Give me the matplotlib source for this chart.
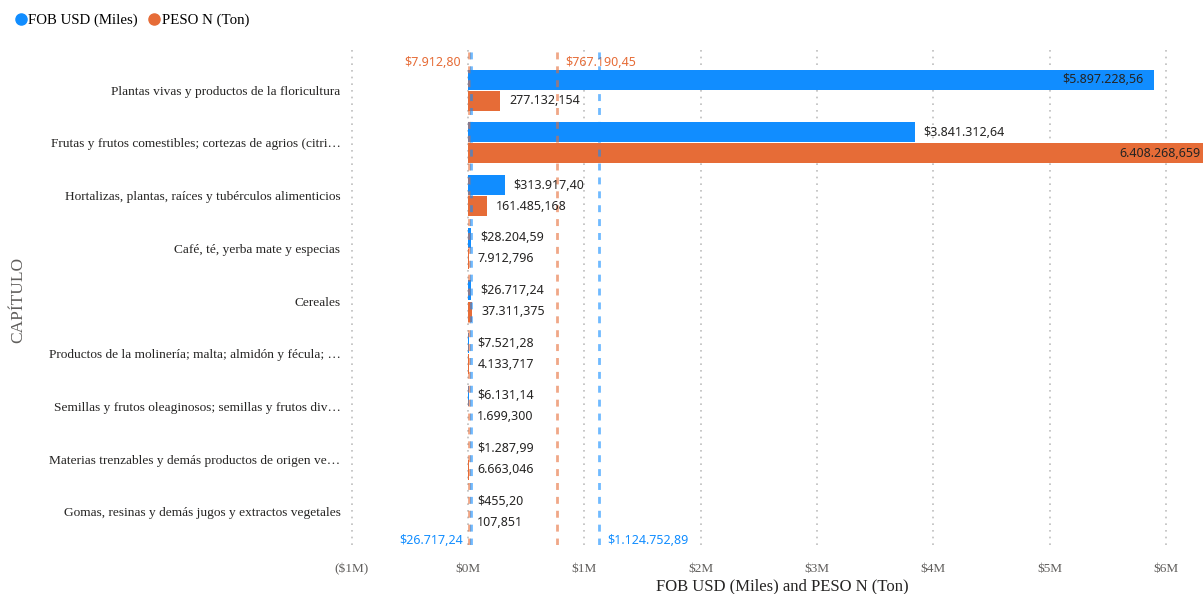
import numpy as np
import matplotlib.pyplot as plt
from matplotlib.lines import Line2D
from matplotlib.ticker import FuncFormatter

# data (FOB in miles USD, PESO in tons)
capitulos = [
    "Plantas vivas y productos de la floricultura",
    "Frutas y frutos comestibles; cortezas de agrios (citri\u2026",
    "Hortalizas, plantas, raíces y tubérculos alimenticios",
    "Café, té, yerba mate y especias",
    "Cereales",
    "Productos de la molinería; malta; almidón y fécula; \u2026",
    "Semillas y frutos oleaginosos; semillas y frutos div\u2026",
    "Materias trenzables y demás productos de origen ve\u2026",
    "Gomas, resinas y demás jugos y extractos vegetales",
]
fob_usd = [5897228.56, 3841312.64, 313917.40, 28204.59, 26717.24,
           7521.28, 6131.14, 1287.99, 455.20]
peso_ton = [277132.154, 6408268.659, 161485.168, 7912.796, 37311.375,
            4133.717, 1699.300, 6663.046, 107.851]
x_ticks = [-1, 0, 1, 2, 3, 4, 5, 6]

blue = "#118DFF"
orange = "#E66C37"
txt = "#252423"
gray = "#605E5C"


def es_num(v, dec):
    s = f"{v:,.{dec}f}"
    return s.replace(",", "X").replace(".", ",").replace("X", ".")


fig = plt.figure(figsize=(12.03, 5.94), dpi=100)
ax = fig.add_axes([346 / 1203, 49 / 594, (1203 - 346) / 1203, 498 / 594])

xmin, xmax = -1.05e6, 6.32e6
pos = np.arange(len(capitulos))
h = 0.38
off = 0.2

ax.barh(pos - off, fob_usd, height=h, color=blue, zorder=3)
ax.barh(pos + off, peso_ton, height=h, color=orange, zorder=3)

# data labels: outside end, inside end when there is no room
for i in range(len(capitulos)):
    for val, y, lab in [(fob_usd[i], pos[i] - off, "$" + es_num(fob_usd[i], 2)),
                        (peso_ton[i], pos[i] + off, es_num(peso_ton[i], 3))]:
        if val > xmax:
            ax.text(xmax - 0.02e6, y, lab, ha="right", va="center", fontsize=9,
                    family="Noto Sans", color=txt, zorder=5)
        elif val + 0.8e6 > xmax:
            ax.text(val - 0.09e6, y, lab, ha="right", va="center", fontsize=9,
                    family="Noto Sans", color=txt, zorder=5)
        else:
            ax.text(max(val, 0) + 0.075e6, y, lab, ha="left", va="center", fontsize=9,
                    family="Noto Sans", color=txt, zorder=5)

# reference lines: median and average
fob_med, fob_avg = np.median(fob_usd), np.mean(fob_usd)
peso_med, peso_avg = np.median(peso_ton), np.mean(peso_ton)
for v, c in [(peso_med, orange), (peso_avg, orange), (fob_med, blue), (fob_avg, blue)]:
    ax.axvline(v, color=c, alpha=0.6, lw=2, ls=(0, (2.5, 2.5)), zorder=4)

ax.text(peso_med - 0.07e6, -0.53, "$" + es_num(peso_med, 2), ha="right", va="center",
        fontsize=9, family="Noto Sans", color=orange)
ax.text(peso_avg + 0.07e6, -0.53, "$" + es_num(peso_avg, 2), ha="left", va="center",
        fontsize=9, family="Noto Sans", color=orange)
ax.text(fob_med - 0.07e6, 8.55, "$" + es_num(fob_med, 2), ha="right", va="center",
        fontsize=9, family="Noto Sans", color=blue)
ax.text(fob_avg + 0.07e6, 8.55, "$" + es_num(fob_avg, 2), ha="left", va="center",
        fontsize=9, family="Noto Sans", color=blue)

ax.set_xlim(xmin, xmax)
ax.set_ylim(8.63, -0.82)
ax.set_xticks([t * 1e6 for t in x_ticks])
ax.xaxis.set_major_formatter(FuncFormatter(lambda v, p: f"(${abs(v) / 1e6:.0f}M)" if v < 0 else f"${v / 1e6:.0f}M"))
ax.set_yticks(pos)
ax.set_yticklabels(capitulos, family="Liberation Serif", fontsize=9.6, color=txt)
for lab in ax.get_xticklabels():
    lab.set_family("Liberation Serif")
    lab.set_fontsize(9.5)
    lab.set_color(gray)
ax.tick_params(axis="both", length=0)
ax.tick_params(axis="y", pad=4)
ax.tick_params(axis="x", pad=13)
ax.grid(axis="x", color="#BDBDBD", ls=(0, (1, 3)), lw=1.2, zorder=0)
for s in ax.spines.values():
    s.set_visible(False)

fig.text(782 / 1203, 1 - 586 / 594, "FOB USD (Miles) and PESO N (Ton)", ha="center", va="center",
         family="Liberation Serif", fontsize=12, color=txt)
fig.text(18 / 1203, 1 - 300 / 594, "CAPÍTULO", rotation=90, ha="center", va="center",
         family="Liberation Serif", fontsize=12.5, color=gray)

handles = [Line2D([], [], marker="o", ls="", color=blue, markersize=8),
           Line2D([], [], marker="o", ls="", color=orange, markersize=8)]
fig.legend(handles, ["FOB USD (Miles)", "PESO N (Ton)"], loc="upper left",
           bbox_to_anchor=(0.0, 1.0), ncol=2, frameon=False, handletextpad=0.0,
           columnspacing=0.6, handlelength=1.0,
           prop={"family": "Liberation Serif", "size": 10.7})

fig.savefig("out.png", dpi=100)
